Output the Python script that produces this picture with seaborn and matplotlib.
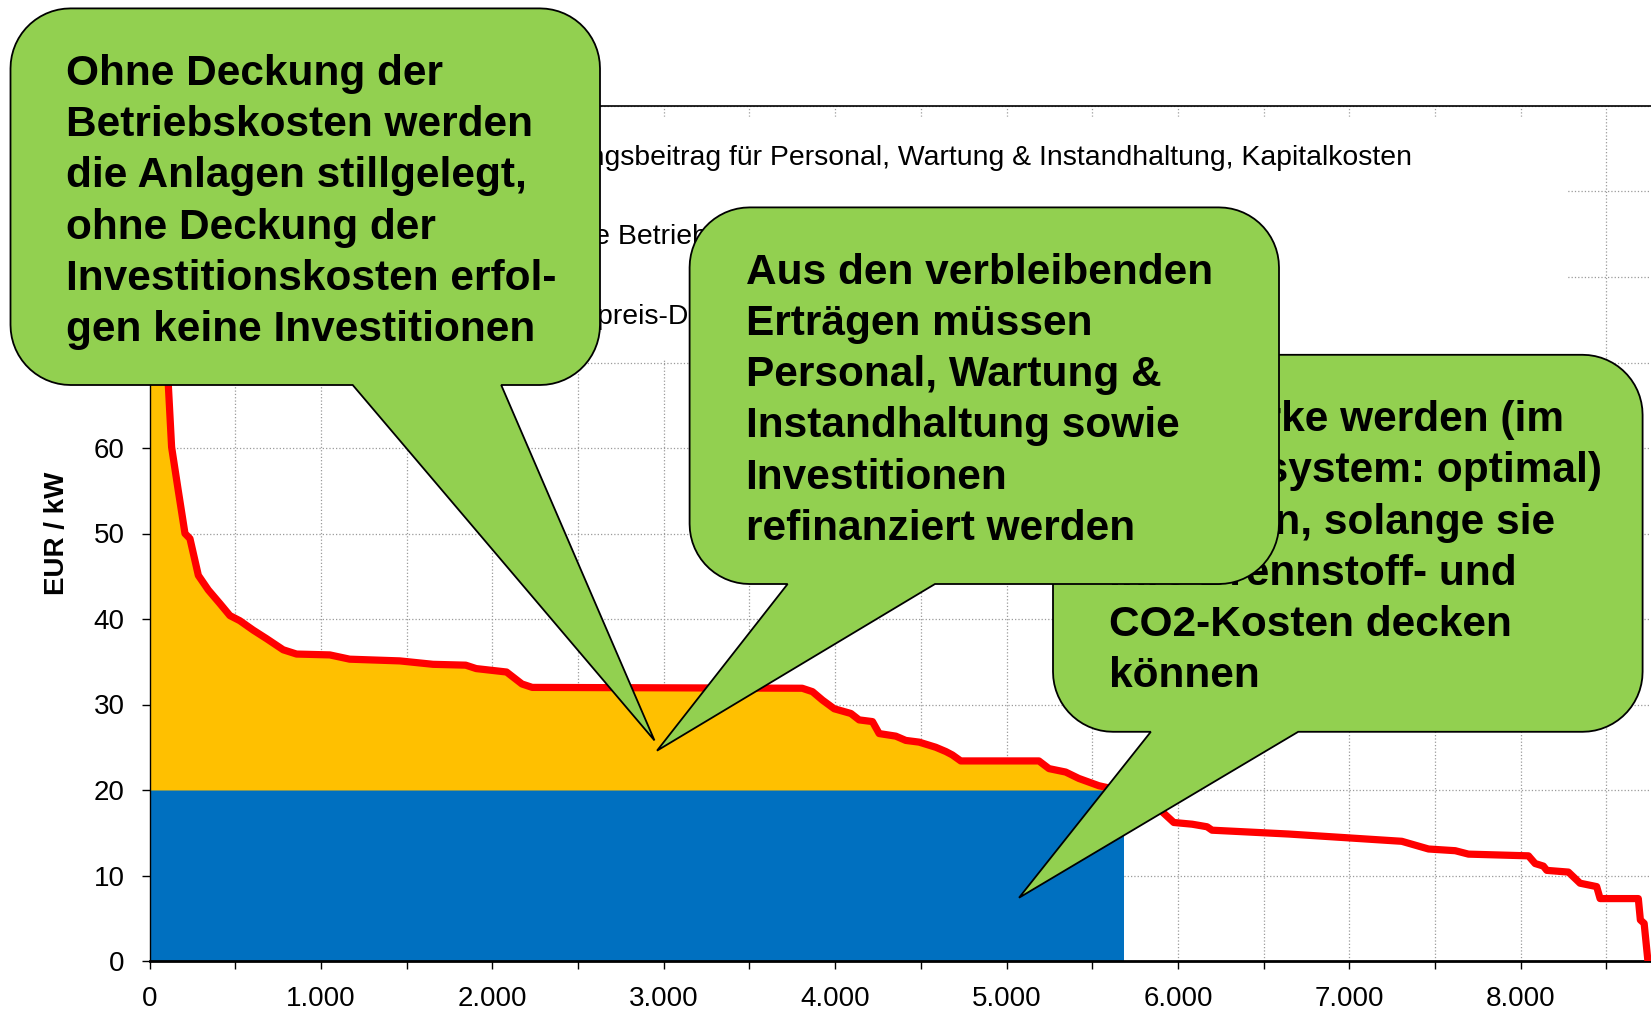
import numpy as np
import pandas as pd
import seaborn as sns
import matplotlib
matplotlib.use("Agg")
import matplotlib.pyplot as plt
from matplotlib.patches import Polygon, Patch
from matplotlib.lines import Line2D
from matplotlib.ticker import FuncFormatter, MultipleLocator

# Strompreis-Dauerlinie (Stunden im Jahr -> EUR/kW)
hours = [0, 40, 80, 110, 129, 168, 207, 236, 285, 343, 411, 469, 527, 605, 683,
         780, 858, 1052, 1168, 1460, 1654, 1845, 1906, 2083, 2173, 2233, 3808,
         3868, 3927, 3995, 4092, 4140, 4218, 4257, 4354, 4412, 4490, 4587, 4646,
         4684, 4733, 5189, 5248, 5345, 5422, 5539, 5650, 5800, 5908, 5976, 6083,
         6170, 6199, 6646, 6996, 7306, 7462, 7618, 7695, 8045, 8084, 8132, 8152,
         8278, 8346, 8443, 8463, 8686, 8698, 8720, 8742]
prices = [110, 88, 74, 67.3, 60.1, 55.0, 50.0, 49.4, 45.1, 43.4, 41.8, 40.4, 39.8,
          38.7, 37.7, 36.4, 35.9, 35.8, 35.3, 35.1, 34.7, 34.6, 34.2, 33.8, 32.4,
          32.0, 31.9, 31.5, 30.5, 29.5, 28.95, 28.2, 28.0, 26.6, 26.3, 25.8, 25.6,
          25.0, 24.5, 24.1, 23.4, 23.4, 22.5, 22.1, 21.35, 20.5, 20.0, 18.8, 17.45,
          16.2, 16.0, 15.7, 15.3, 14.85, 14.4, 14.0, 13.1, 12.9, 12.5, 12.3, 11.4,
          11.1, 10.6, 10.4, 9.1, 8.7, 7.3, 7.3, 4.8, 4.4, 0.0]
var_cost = 20        # variable Betriebskosten
run_hours = 5688     # Einsatzstunden

legend_labels = ["Deckungsbeitrag für Personal, Wartung & Instandhaltung, Kapitalkosten",
                 "Variable Betriebskosten",
                 "Börsenpreis-Dauerlinie"]

b1_lines = ["Ohne Deckung der", "Betriebskosten werden", "die Anlagen stillgelegt,",
            "ohne Deckung der", "Investitionskosten erfol-", "gen keine Investitionen"]
b2_lines = ["Aus den verbleibenden", "Erträgen müssen", "Personal, Wartung &",
            "Instandhaltung sowie", "Investitionen", "refinanziert werden"]
b3_lines = ["Kraftwerke werden (im", "Gesamtsystem: optimal)", "betrieben, solange sie",
            "ihre Brennstoff- und", "CO2-Kosten decken", "können"]
# Spitzen der Sprechblasen (Stunden, EUR/kW)
b1_tip = (2946, 25.8)
b2_tip = (2961, 24.6)
b3_tip = (5073, 7.4)

ORANGE, BLUE, RED, GREEN = "#FFC000", "#0070C0", "#FF0000", "#92D050"

sns.set_style("white")
plt.rcParams["font.family"] = ["Liberation Sans", "DejaVu Sans"]
plt.rcParams.update({"text.color": "black", "axes.labelcolor": "black",
                     "xtick.color": "black", "ytick.color": "black"})

W, H = 1651, 1014
fig = plt.figure(figsize=(W / 100, H / 100), dpi=100)
ax = fig.add_axes([149.5 / W, 1 - 961 / H, (W - 149.5) / W, (961 - 106) / H])

df = pd.DataFrame({"Stunden": hours, "Preis": prices})
h = np.array(hours, dtype=float)
p = np.array(prices, dtype=float)

ax.fill_between([0, run_hours], 0, var_cost, color=BLUE, lw=0, zorder=2)
ax.fill_between(h, var_cost, p, where=(p >= var_cost) & (h <= run_hours),
                interpolate=True, color=ORANGE, lw=0, zorder=2)
sns.lineplot(data=df, x="Stunden", y="Preis", ax=ax, color=RED, lw=5.2,
             zorder=3, legend=False)

ax.set_xlim(0, 8760)
ax.set_ylim(0, 100)
ax.xaxis.set_major_locator(MultipleLocator(500))
ax.xaxis.set_major_formatter(FuncFormatter(
    lambda v, _: f"{v:,.0f}".replace(",", ".") if v % 1000 == 0 else ""))
ax.yaxis.set_major_locator(MultipleLocator(10))
ax.grid(True, color="#9a9a9a", ls=":", lw=0.9)
ax.set_axisbelow(True)
ax.tick_params(direction="out", length=6, width=1, labelsize=20, pad=12,
               color="black", labelcolor="black", left=True, bottom=True)
ax.set_xlabel("")
ax.set_ylabel("EUR / kW", fontsize=20, fontweight="bold", color="black")
ax.yaxis.set_label_coords(-0.053, 0.5)
for side, lw in [("top", 1.2), ("left", 1.0), ("bottom", 2.0)]:
    ax.spines[side].set_color("black")
    ax.spines[side].set_linewidth(lw)
ax.spines["right"].set_visible(False)

handles = [Patch(facecolor=ORANGE), Patch(facecolor=BLUE),
           Line2D([], [], color=RED, lw=5.2)]
x0 = 0.1673
ax.legend(handles, legend_labels, loc="upper left",
          bbox_to_anchor=(x0, 0.70, 0.9434 - x0, 0.2871), mode="expand",
          borderaxespad=0, borderpad=0.98, labelspacing=1.89, fontsize=20.4,
          frameon=True, fancybox=False, framealpha=1, edgecolor="white",
          facecolor="white", labelcolor="black")


def bubble(box, base, tip, lines, z, r=60, steps=16):
    left, top, right, bottom = box
    tx, ty = ax.transData.transform(tip)
    ty = H - ty
    pts = []

    def arc(cx, cy, a0, a1):
        for t in np.linspace(np.radians(a0), np.radians(a1), steps):
            pts.append((cx + r * np.cos(t), cy + r * np.sin(t)))

    arc(left + r, top + r, 180, 270)
    arc(right - r, top + r, 270, 360)
    arc(right - r, bottom - r, 0, 90)
    pts += [(base[1], bottom), (tx, ty), (base[0], bottom)]
    arc(left + r, bottom - r, 90, 180)
    xy = [(x / W, 1 - y / H) for x, y in pts]
    fig.add_artist(Polygon(xy, closed=True, transform=fig.transFigure,
                           facecolor=GREEN, edgecolor="black", lw=1.3, zorder=z))
    tx0 = left + 56
    for i, line in enumerate(lines):
        fig.text(tx0 / W, 1 - (box[1] + 76.5 + i * 51.2) / H, line, fontsize=30.5,
                 fontweight="bold", ha="left", va="baseline", color="black",
                 zorder=z + 0.5)


bubble((1053, 354.8, 1642.6, 731.8), (1150.8, 1298.2), b3_tip, b3_lines, 10)
bubble((689.6, 207.4, 1279, 584), (787.6, 935), b2_tip, b2_lines, 12)
bubble((10.5, 8.4, 600, 385), (352.7, 501.2), b1_tip, b1_lines, 14)

fig.savefig("out.png", dpi=100)
